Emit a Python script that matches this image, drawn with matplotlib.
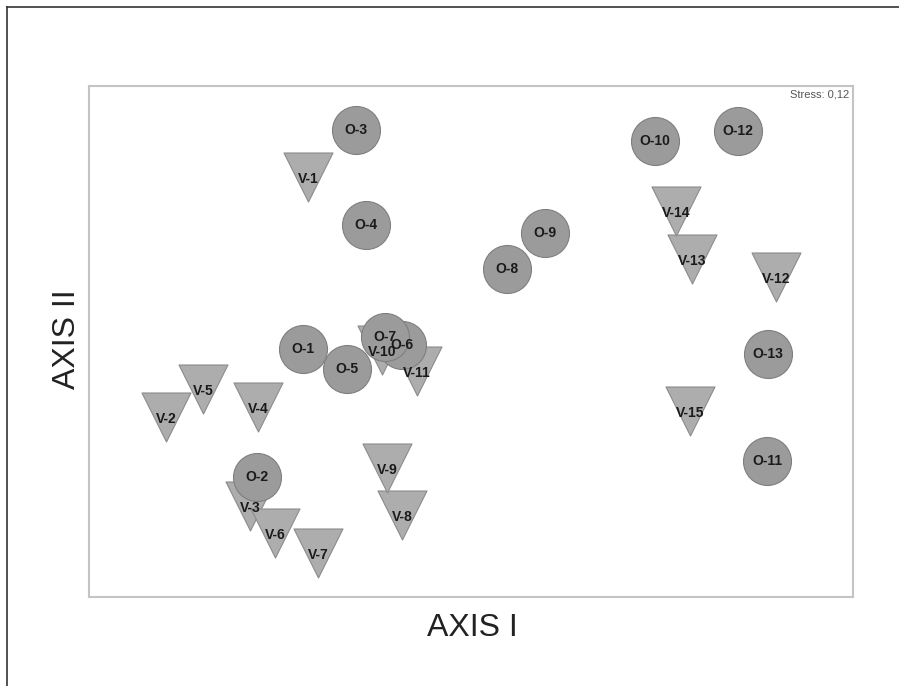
import matplotlib
matplotlib.use("Agg")
import matplotlib.pyplot as plt
from matplotlib.lines import Line2D

plt.rcParams['font.family'] = ['Liberation Sans', 'DejaVu Sans']

# NMDS scores (arbitrary units)
o_labels = ["O-1", "O-2", "O-3", "O-4", "O-5", "O-6", "O-7",
            "O-8", "O-9", "O-10", "O-11", "O-12", "O-13"]
o_x = [-0.44, -0.56, -0.30, -0.275, -0.325, -0.181, -0.225,
       0.094, 0.194, 0.482, 0.775, 0.699, 0.777]
o_y = [-0.02, -0.37, 0.58, 0.32, -0.075, -0.01, 0.012,
       0.199, 0.297, 0.549, -0.327, 0.576, -0.034]

v_labels = ["V-1", "V-2", "V-3", "V-4", "V-5", "V-6", "V-7", "V-8",
            "V-9", "V-10", "V-11", "V-12", "V-13", "V-14", "V-15"]
v_x = [-0.427, -0.798, -0.579, -0.558, -0.702, -0.513, -0.401, -0.181,
       -0.220, -0.233, -0.141, 0.798, 0.579, 0.537, 0.573]
v_y = [0.451, -0.207, -0.451, -0.179, -0.130, -0.525, -0.579, -0.475,
       -0.347, -0.023, -0.081, 0.177, 0.226, 0.358, -0.190]

stress = "Stress: 0,12"

fig = plt.figure(figsize=(8.99, 6.86), dpi=100)
ax = fig.add_axes([0.099, 0.1297, 0.8499, 0.7449])

# triangles below the circles
ax.scatter(v_x, v_y, s=1245, marker="v", color="#adadad",
           edgecolors="#8c8c8c", linewidths=0.8, zorder=2)
ax.scatter(o_x, o_y, s=1194, marker="o", color="#9b9b9b",
           edgecolors="#7f7f7f", linewidths=0.8, zorder=3)

for lab, x, y in zip(v_labels, v_x, v_y):
    ax.text(x, y - 0.006, lab, ha="center", va="center", fontsize=10,
            fontweight="bold", color="#1a1a1a", zorder=4)
for lab, x, y in zip(o_labels, o_x, o_y):
    ax.text(x, y, lab, ha="center", va="center", fontsize=10,
            fontweight="bold", color="#1a1a1a", zorder=4)

ax.set_xlim(-1.0, 1.0)
ax.set_ylim(-0.7, 0.7)
ax.set_xticks([])
ax.set_yticks([])
for sp in ax.spines.values():
    sp.set_color("#c4c4c4")
    sp.set_linewidth(1.5)

ax.text(0.995, 0.993, stress, transform=ax.transAxes, ha="right", va="top",
        fontsize=8, color="#555555")

fig.text(472 / 899, 1 - 628 / 686, "AXIS I", ha="center", va="center",
         fontsize=23, color="#222222")
fig.text(67 / 899, 1 - 339 / 686, "AXIS II", ha="center", va="center",
         fontsize=23, rotation=90, color="#222222")

# outer frame (left and top edges only)
fig.add_artist(Line2D([7 / 899, 7 / 899], [0, 1 - 7 / 686],
                      transform=fig.transFigure, color="#333333", linewidth=1.2))
fig.add_artist(Line2D([7 / 899, 1], [1 - 7 / 686, 1 - 7 / 686],
                      transform=fig.transFigure, color="#333333", linewidth=1.2))

fig.savefig("out.png", dpi=100)
